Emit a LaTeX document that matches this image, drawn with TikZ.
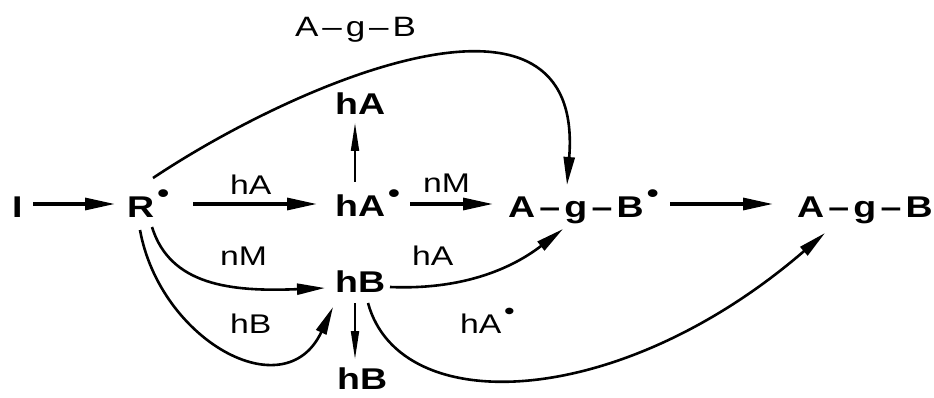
\documentclass[tikz,border=0pt]{standalone}
\usepackage{fontspec}
\setmainfont[FakeStretch=1.25]{Liberation Sans}
\usetikzlibrary{arrows.meta}
\newcommand{\rad}{\kern0.1em\raisebox{0.5em}{\scalebox{0.9}{•}}}
\newcommand{\dsh}{\kern0.14em–\kern0.14em}
\begin{document}
\begin{tikzpicture}[x=1pt,y=-1pt,
  sp/.style={font=\fontsize{30}{32}\selectfont\bfseries,inner sep=0pt,anchor=base west},
  lab/.style={font=\fontsize{27}{29}\selectfont,inner sep=0pt,anchor=base west},
  arr/.style={line width=3.2pt,-{Triangle[length=30pt,width=12pt]}},
  carr/.style={line width=2.6pt,-{Triangle[length=28pt,width=11pt]}},
  varr/.style={line width=1.8pt,-{Triangle[length=28pt,width=8pt]}}]
\useasboundingbox (0,0) rectangle (934,398);
% species
\node[sp] (I) at (12,218) {I};
\node[sp] (R) at (127,218) {R\rad};
\node[sp] (hAr) at (335,217) {hA\rad};
\node[sp] (hAt) at (335,115) {hA};
\node[sp] (AgBr) at (508,218) {A\dsh g\dsh B\rad};
\node[sp] (AgB) at (797,218) {A\dsh g\dsh B};
\node[sp] (hB) at (335,292) {hB};
\node[sp] (hBb) at (337,389) {hB};
% labels
\node[lab,font=\fontsize{28}{30}\selectfont] (Ltop) at (295,37) {A\dsh g\dsh B};
\node[lab] (L1) at (230,195) {hA};
\node[lab] (L2) at (423,193) {nM};
\node[lab] (L3) at (220,265) {nM};
\node[lab] (L4) at (230,333) {hB};
\node[lab] (L5) at (412,265) {hA};
\node[lab] (L6) at (460,333) {hA\rad};
% straight arrows
\draw[arr] ([xshift=21pt,yshift=14pt]I.base west) -- ([xshift=-12pt,yshift=14pt]R.base west);
\draw[arr] ([xshift=66pt,yshift=14pt]R.base west) -- ([xshift=-18pt,yshift=13pt]hAr.base west);
\draw[arr] ([xshift=75pt,yshift=13pt]hAr.base west) -- ([xshift=-15pt,yshift=14pt]AgBr.base west);
\draw[arr] ([xshift=162pt,yshift=14pt]AgBr.base west) -- ([xshift=-24pt,yshift=14pt]AgB.base west);
\draw[varr] ([xshift=20pt,yshift=35pt]hAr.base west) -- ([xshift=20pt,yshift=-8pt]hAt.base west);
\draw[varr] ([xshift=20pt,yshift=-11pt]hB.base west) -- ([xshift=18pt,yshift=30pt]hBb.base west);
% curves
\draw[carr] ([xshift=26pt,yshift=40pt]R.base west) .. controls (300,80) and (585,-40) .. ([xshift=59pt,yshift=33pt]AgBr.base west);
\draw[carr] ([xshift=25pt,yshift=-9pt]R.base west) .. controls (170,285) and (230,292) .. ([xshift=-10pt,yshift=4pt]hB.base west);
\draw[carr] ([xshift=13pt,yshift=-12pt]R.base west) .. controls (160,340) and (285,410) .. ([xshift=-2pt,yshift=-15pt]hB.base west);
\draw[carr] ([xshift=55pt,yshift=5pt]hB.base west) .. controls (460,290) and (510,270) .. ([xshift=55pt,yshift=-11pt]AgBr.base west);
\draw[carr] ([xshift=33pt,yshift=-11pt]hB.base west) .. controls (400,420) and (620,410) .. ([xshift=28pt,yshift=-15pt]AgB.base west);
\end{tikzpicture}
\end{document}
